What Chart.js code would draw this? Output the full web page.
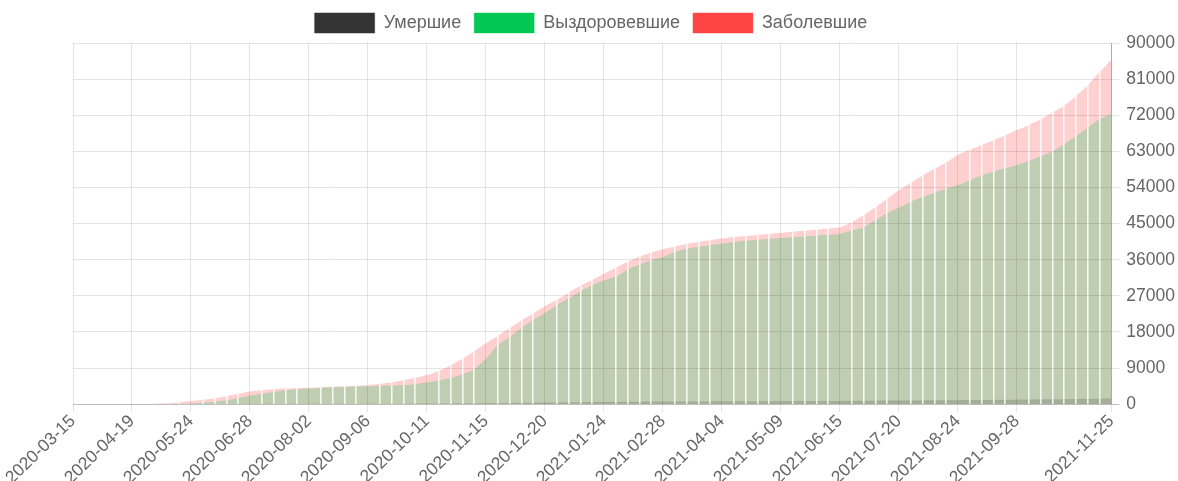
<!DOCTYPE html>
<html>
<head>
<meta charset="utf-8">
<script src="https://cdn.jsdelivr.net/npm/chart.js@4/dist/chart.umd.min.js"></script>
<style>
  body { margin: 0; background: #fff; }
  #wrap { width: 1178px; height: 481px; position: relative; }
</style>
</head>
<body>
<div id="wrap"><canvas id="myChart"></canvas></div>
<script>
'use strict'
const labels = [
  '2020-03-15', '2020-03-22', '2020-03-29', '2020-04-05', '2020-04-12', '2020-04-19', '2020-04-26', '2020-05-03', '2020-05-10', '2020-05-17',
  '2020-05-24', '2020-05-31', '2020-06-07', '2020-06-14', '2020-06-21', '2020-06-28', '2020-07-05', '2020-07-12', '2020-07-19', '2020-07-26',
  '2020-08-02', '2020-08-09', '2020-08-16', '2020-08-23', '2020-08-30', '2020-09-06', '2020-09-13', '2020-09-20', '2020-09-27', '2020-10-04',
  '2020-10-11', '2020-10-18', '2020-10-25', '2020-11-01', '2020-11-08', '2020-11-15', '2020-11-22', '2020-11-29', '2020-12-06', '2020-12-13',
  '2020-12-20', '2020-12-27', '2021-01-03', '2021-01-10', '2021-01-17', '2021-01-24', '2021-01-31', '2021-02-07', '2021-02-14', '2021-02-21',
  '2021-02-28', '2021-03-07', '2021-03-14', '2021-03-21', '2021-03-28', '2021-04-04', '2021-04-11', '2021-04-18', '2021-04-25', '2021-05-02',
  '2021-05-09', '2021-05-16', '2021-05-23', '2021-05-30', '2021-06-06', '2021-06-15', '2021-06-22', '2021-06-29', '2021-07-06', '2021-07-13',
  '2021-07-20', '2021-07-27', '2021-08-03', '2021-08-10', '2021-08-17', '2021-08-24', '2021-08-31', '2021-09-07', '2021-09-14', '2021-09-21',
  '2021-09-28', '2021-10-05', '2021-10-12', '2021-10-19', '2021-10-26', '2021-11-02', '2021-11-09', '2021-11-16', '2021-11-25'
];

// cumulative totals
const dead = [
  0, 0, 0, 0, 0, 0, 0, 1, 2, 4,
  8, 15, 25, 40, 55, 70, 80, 90, 100, 105,
  110, 115, 120, 125, 130, 135, 140, 145, 150, 160,
  170, 185, 200, 215, 235, 260, 290, 320, 350, 380,
  410, 440, 470, 500, 530, 560, 590, 610, 630, 650,
  670, 680, 690, 700, 710, 720, 730, 740, 750, 760,
  770, 780, 790, 800, 810, 820, 840, 860, 880, 900,
  920, 940, 960, 980, 1000, 1020, 1040, 1060, 1080, 1100,
  1120, 1150, 1180, 1210, 1250, 1290, 1340, 1390, 1440
];
const recovered = [
  0, 0, 0, 0, 1, 3, 8, 15, 30, 60,
  200, 350, 600, 1000, 1500, 2100, 2600, 3100, 3500, 3750,
  3900, 4050, 4200, 4300, 4400, 4450, 4550, 4650, 4800, 5000,
  5450, 5900, 6600, 7500, 8800, 11300, 14800, 16700, 19000, 21000,
  22700, 24700, 26400, 28100, 29700, 30800, 31800, 33500, 34800, 35900,
  36700, 37900, 38800, 39200, 39700, 40000, 40400, 40700, 40950, 41150,
  41400, 41600, 41800, 42000, 42200, 42500, 43300, 44100, 45900, 47600,
  49000, 50400, 51600, 52700, 53700, 54600, 55800, 57000, 58000, 58800,
  59600, 60600, 61700, 63000, 64800, 66800, 68900, 71000, 72300
];
const infected = [
  0, 2, 5, 10, 20, 40, 80, 150, 250, 450,
  800, 1100, 1500, 2000, 2600, 3200, 3500, 3750, 3900, 4000,
  4100, 4250, 4350, 4450, 4600, 4750, 5100, 5500, 6000, 6600,
  7300, 8300, 9700, 11300, 13200, 15200, 17000, 18900, 20900, 22600,
  24400, 26000, 27800, 29500, 31000, 32500, 34000, 35500, 36800, 37800,
  38600, 39300, 39900, 40400, 40900, 41300, 41650, 41900, 42150, 42400,
  42700, 43000, 43250, 43500, 43800, 44100, 45400, 47100, 49100, 51200,
  53300, 55200, 57000, 58600, 60200, 62100, 63400, 64600, 65800, 67000,
  68300, 69600, 71000, 72600, 74400, 76800, 79500, 82700, 85800
];
const seriesNames = ['Умершие', 'Выздоровевшие', 'Заболевшие'];
const yMax = 90000;
const yStep = 9000;

const fillColors = ['rgba(51, 51, 51, 0.2)', 'rgba(0, 200, 83, 0.25)', 'rgba(255, 68, 68, 0.25)'];
const legendFill = ['#333333', '#00c853', '#ff4444'];
const legendStroke = ['rgba(51, 51, 51, 0.5)', 'rgba(0, 200, 83, 0.4)', 'rgba(255, 68, 68, 0.4)'];
const gridGray = 'rgba(0, 0, 0, 0.1)';
const weekLine = 'rgba(255, 255, 255, 0.85)';

Chart.defaults.font.family = "'Liberation Sans', Arial, sans-serif";
Chart.defaults.font.size = 17.5;
Chart.defaults.color = '#666';

// every 5th week gets a label, plus the last one (old autoskip behaviour)
function keepTick(i, n) {
  if (i === n - 1) return true;
  return i % 5 === 0 && i + 5 < n;
}

function makeSet(idx, data) {
  return {
    label: seriesNames[idx],
    data: data,
    backgroundColor: fillColors[idx],
    borderColor: fillColors[idx],
    borderWidth: 0,
    pointRadius: 0,
    fill: 'origin',
    tension: 0.3
  };
}

const ctx = document.getElementById('myChart').getContext('2d');
const myChart = new Chart(ctx, {
  type: 'line',
  data: {
    labels: labels,
    datasets: [makeSet(0, dead), makeSet(1, recovered), makeSet(2, infected)]
  },
  options: {
    responsive: true,
    maintainAspectRatio: false,
    animation: false,
    layout: { padding: { left: 0, right: -4, top: 0, bottom: -6 } },
    plugins: {
      tooltip: { enabled: false },
      legend: {
        labels: {
          boxWidth: 60,
          boxHeight: 20,
          padding: 13,
          color: '#666',
          font: { size: 18 },
          generateLabels: function (chart) {
            return chart.data.datasets.map(function (ds, i) {
              return {
                text: ds.label,
                fillStyle: legendFill[i],
                strokeStyle: legendStroke[i],
                fontColor: '#666',
                lineWidth: 1,
                hidden: !chart.isDatasetVisible(i),
                datasetIndex: i
              };
            });
          }
        }
      }
    },
    scales: {
      x: {
        offset: false,
        afterFit: function (scale) {
          scale.paddingLeft = 73;
        },
        grid: {
          z: 1,
          tickLength: 8,
          color: function (c) { return keepTick(c.index, labels.length) ? gridGray : weekLine; },
          lineWidth: function (c) { return keepTick(c.index, labels.length) ? 1 : 1.6; }
        },
        border: { display: false },
        ticks: {
          autoSkip: false,
          minRotation: 44,
          maxRotation: 44,
          padding: 0,
          font: { lineHeight: 1 },
          callback: function (value, index) {
            return keepTick(index, labels.length) ? labels[index] : '';
          }
        }
      },
      y: {
        position: 'right',
        min: 0,
        max: yMax,
        grid: {
          z: 2,
          tickLength: 8,
          color: function (c) { return c.tick && c.tick.value === 0 ? 'rgba(0, 0, 0, 0.25)' : gridGray; }
        },
        border: { z: 2, color: 'rgba(0, 0, 0, 0.25)' },
        ticks: {
          stepSize: yStep,
          padding: 7,
          callback: function (value) { return String(value); }
        }
      }
    }
  }
});
</script>
</body>
</html>
